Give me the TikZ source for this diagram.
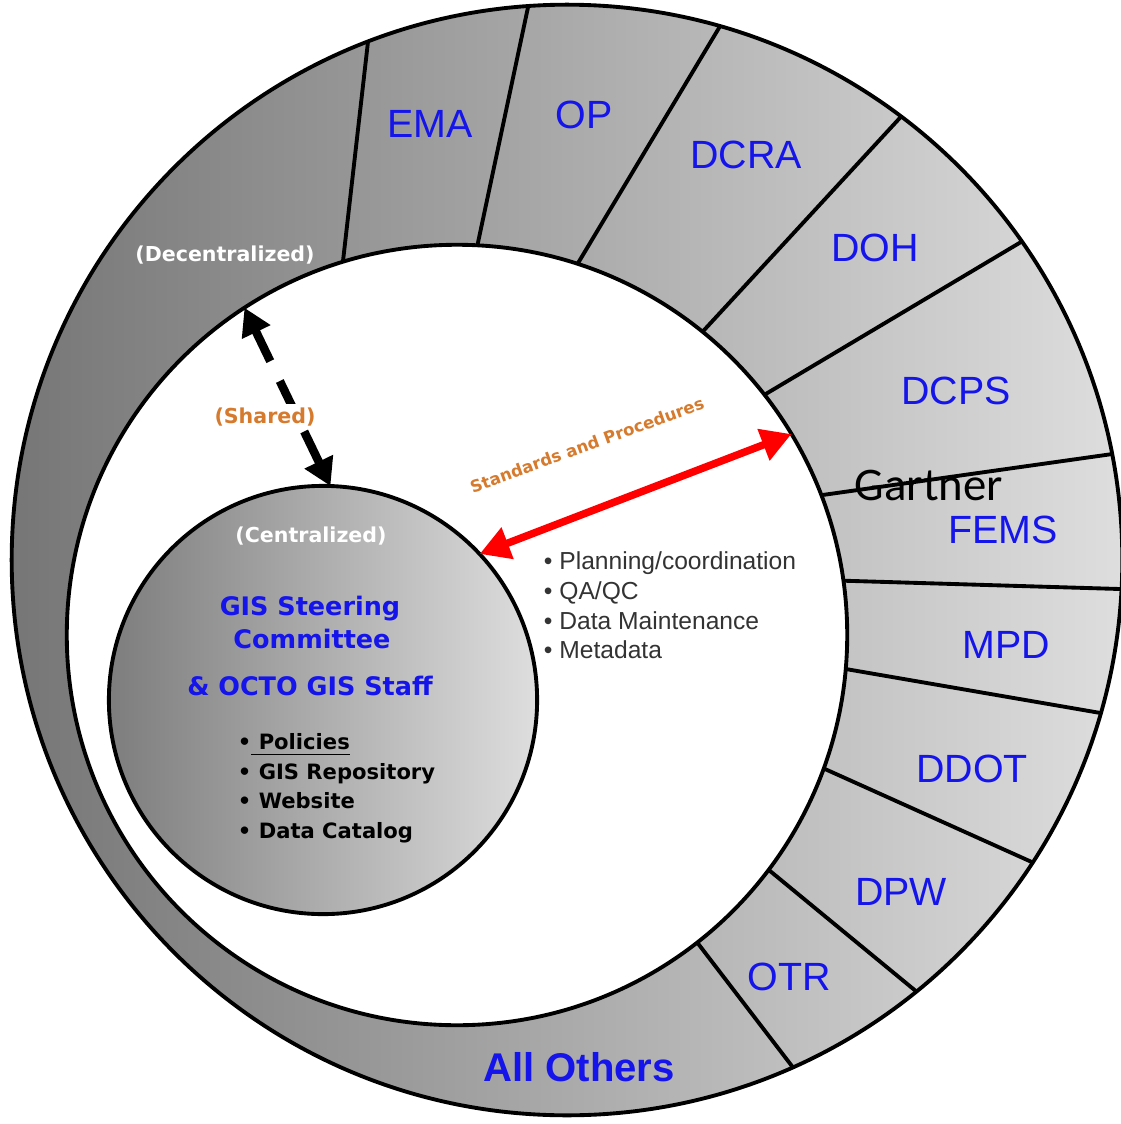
\documentclass[tikz,border=0pt]{standalone}
\usepackage{fontspec}
\setmainfont{Liberation Sans}
\newfontfamily\dejavu{DejaVu Sans}
\newfontfamily\carlito{Carlito}
\usepackage{tikz}
\usetikzlibrary{arrows.meta}

\definecolor{deptblue}{RGB}{20,20,235}
\definecolor{sharedorange}{RGB}{214,122,45}
\definecolor{ringdark}{RGB}{118,118,118}
\definecolor{ringlight}{RGB}{222,222,222}
\definecolor{coredark}{RGB}{125,125,125}
\definecolor{corelight}{RGB}{222,222,222}

\tikzset{
    dept/.style={text=deptblue, anchor=base, inner sep=0pt, font=\fontsize{11.2}{13}\selectfont},
    mode/.style={text=white, anchor=base, inner sep=1pt, font=\dejavu\bfseries\fontsize{5.85}{7}\selectfont},
    core/.style={text=deptblue, anchor=base, inner sep=0pt, font=\dejavu\bfseries\fontsize{7.25}{9}\selectfont},
    duty/.style={anchor=base west, inner sep=0pt, font=\dejavu\bfseries\fontsize{6}{7}\selectfont},
    task/.style={anchor=base west, inner sep=0pt, text=black!80, font=\fontsize{7}{8}\selectfont},
    ring/.style={circle, draw, inner sep=0pt, outer sep=0pt},
    redtip/.tip={Triangle[length=0.3cm, width=0.32cm]},
    blacktip/.tip={Triangle[length=0.27cm, width=0.3cm]},
}

\begin{document}
\begin{tikzpicture}[x=0.01cm, y=-0.01cm, line width=1.1pt]
                    \useasboundingbox (0,0) rectangle (1121,1124);

                    \node[ring, minimum size=11.1cm, left color=ringdark, right color=ringlight] (outer) at (567,560) {};
                    \node[ring, minimum size=7.8cm, fill=white] (inner) at (457,635) {};
                    \node[ring, minimum size=4.28cm, left color=coredark, right color=corelight] (cent) at (323,700) {};

                    % segment borders of the ring
                    \foreach \a/\b in {111.3/107.7, 94.4/87.3, 74.9/72.1, 53.1/51.7, 35.0/38.8, 11.9/21.1,
                                       -3.3/8.0, -16.9/-5.6, -33.6/-20.0, -51.8/-37.7, -66.7/-52.9}
                        \draw (outer.\a) -- (inner.\b);

                    \node[dept] (ema) at (430,137) {EMA};
                    \node[dept] (op) at (584,128) {OP};
                    \node[dept] (dcra) at (746,168) {DCRA};
                    \node[dept] (doh) at (875,261) {DOH};
                    \node[dept] (dcps) at (956,404) {DCPS};
                    \node[dept] (fems) at (1003,543) {FEMS};
                    \node[dept] (mpd) at (1006,658) {MPD};
                    \node[dept] (ddot) at (972,782) {DDOT};
                    \node[dept] (dpw) at (901,905) {DPW};
                    \node[dept] (otr) at (789,990) {OTR};
                    \node[dept, font=\bfseries\fontsize{11.4}{13}\selectfont] (others) at (579,1081) {All Others};
                    \node[anchor=base, inner sep=0pt, font=\carlito\fontsize{13.3}{15}\selectfont] (gartner) at (929,500) {Gartner};

                    \node[mode] (decent) at (225,261) {(Decentralized)};
                    \node[mode] (centr) at (311,542) {(Centralized)};

                    \node[core] (steer) at (310,615) {GIS Steering};
                    \node[core] (comm) at (312,648) {Committee};
                    \node[core] (octo) at (310,695) {\& OCTO GIS Staff};

                    \node[duty] (policies) at (236,749) {•\underline{\ Policies}};
                    \node[duty] (repo) at (236,779) {• GIS Repository};
                    \node[duty] (web) at (236,808) {• Website};
                    \node[duty] (catalog) at (236,838) {• Data Catalog};

                    \node[task] (plan) at (542,569) {• Planning/coordination};
                    \node[task] (qaqc) at (542,599) {• QA/QC};
                    \node[task] (maint) at (542,629) {• Data Maintenance};
                    \node[task] (meta) at (542,658) {• Metadata};

                    \draw[red, line width=0.075cm, redtip-redtip] (cent.43.5) -- (inner.31.1);
                    \node[rotate=20, text=sharedorange, inner sep=0pt, font=\dejavu\bfseries\fontsize{4.7}{5}\selectfont] (std) at (587,445) {Standards and Procedures};

                    \draw[line width=0.085cm, dash pattern=on 0.34cm off 0.22cm, blacktip-blacktip] (inner.123) -- (cent.88.7);
                    \node[mode, text=sharedorange, fill=white] (shared) at (265,423) {(Shared)};
\end{tikzpicture}
\end{document}
